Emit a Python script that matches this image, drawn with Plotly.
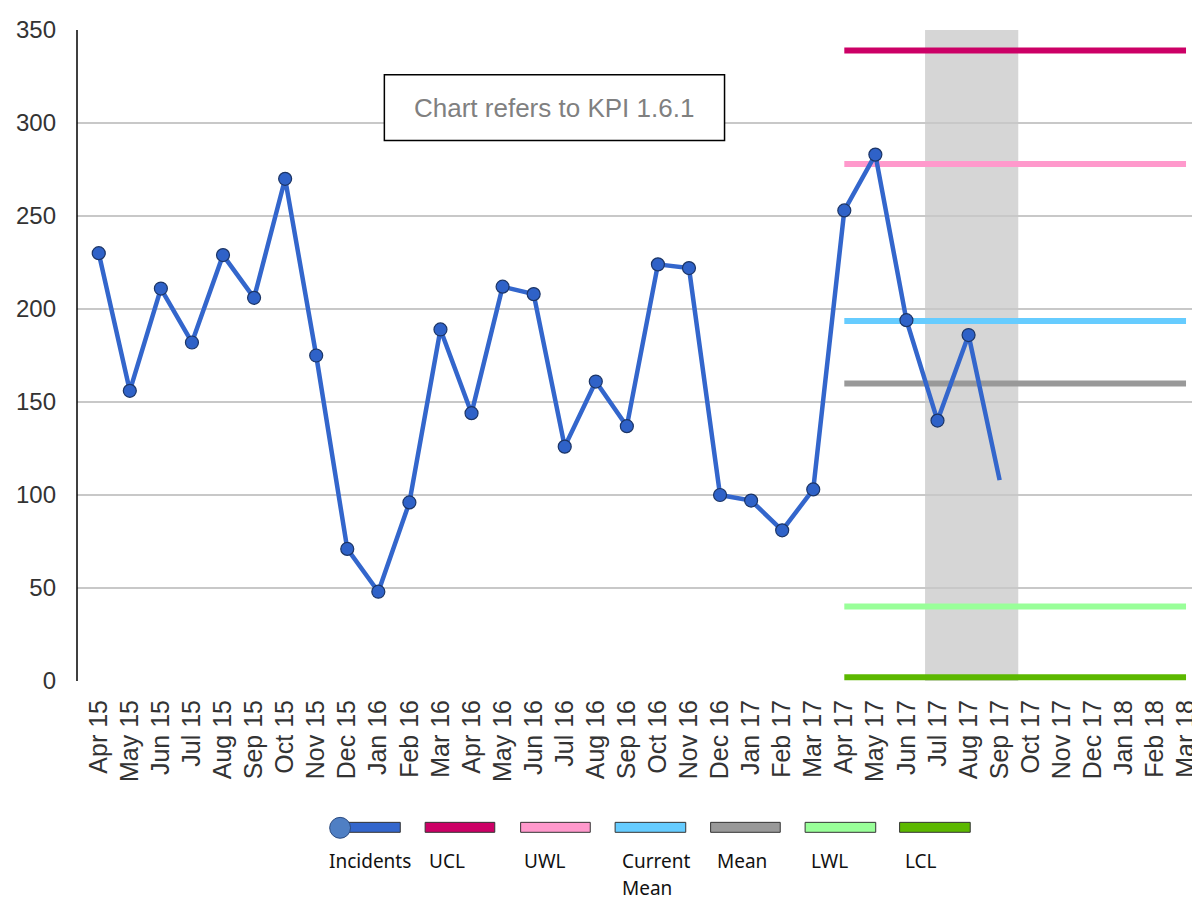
import plotly.graph_objects as go

months = ["Apr 15", "May 15", "Jun 15", "Jul 15", "Aug 15", "Sep 15", "Oct 15", "Nov 15", "Dec 15",
          "Jan 16", "Feb 16", "Mar 16", "Apr 16", "May 16", "Jun 16", "Jul 16", "Aug 16", "Sep 16",
          "Oct 16", "Nov 16", "Dec 16", "Jan 17", "Feb 17", "Mar 17", "Apr 17", "May 17", "Jun 17",
          "Jul 17", "Aug 17", "Sep 17", "Oct 17", "Nov 17", "Dec 17", "Jan 18", "Feb 18", "Mar 18"]

incidents = [230, 156, 211, 182, 229, 206, 270, 175, 71, 48, 96, 189, 144, 212, 208, 126, 161, 137,
             224, 222, 100, 97, 81, 103, 253, 283, 194, 140, 186, 108]

limit_months = months[24:]
ucl = [339] * 12
uwl = [278] * 12
current_mean = [193.5] * 12
mean = [160] * 12
lwl = [40] * 12
lcl = [2] * 12

shade_range = [26.6, 29.6]  # category index span of shaded period

series_names = ["Incidents", "UCL", "UWL", "Current Mean", "Mean", "LWL", "LCL"]
colors = ["#3366cc", "#cc0066", "#ff99cc", "#66ccff", "#999999", "#99ff99", "#5cb800"]

# page has an 8px body margin; positions below are in screen pixels
OFF = 8
L, T, R, B = 71 - OFF, 27 - OFF, 1200 - OFF, 681 - OFF
W, H = R - L, B - T


def px(x):
    return (x - OFF - L) / W


def py(y):
    return (B - (y - OFF)) / H


fig = go.Figure()

limits = [ucl, uwl, current_mean, mean, lwl, lcl]
for name, vals, col in zip(series_names[1:], limits, colors[1:]):
    fig.add_trace(go.Scatter(x=limit_months, y=vals, mode="lines", name=name,
                             line=dict(color=col, width=6), hoverinfo="name+y"))

sizes = [13] * (len(incidents) - 1) + [0]
fig.add_trace(go.Scatter(x=months[:len(incidents)], y=incidents, mode="lines+markers", name="Incidents",
                         line=dict(color=colors[0], width=4.5),
                         marker=dict(symbol="circle", size=sizes, color="#2f62c8", opacity=1,
                                     line=dict(color="#1c3566", width=1.2))))

shapes = []
shapes.append(dict(type="rect", xref="x", yref="paper", x0=shade_range[0], x1=shade_range[1], y0=0, y1=1,
                   fillcolor="#d6d6d6", line=dict(width=0), layer="below"))
# left axis line
shapes.append(dict(type="line", xref="paper", yref="paper", x0=0, x1=0, y0=0, y1=1,
                   line=dict(color="#000000", width=1.5)))
# KPI box
shapes.append(dict(type="rect", xref="paper", yref="paper", x0=px(380), x1=px(722), y0=py(138), y1=py(72),
                   line=dict(color="#000000", width=1.5), fillcolor="white", layer="above"))

annotations = [dict(x=px(551), y=py(105), xref="paper", yref="paper", text="Chart refers to KPI 1.6.1",
                    showarrow=False, xanchor="center", yanchor="middle",
                    font=dict(family="Liberation Sans, Arial", size=26, color="#808080"))]

# custom legend
sw_x0 = [335, 421, 517, 612, 708, 803, 898]
sw_x1 = [396, 491, 587, 683, 778, 874, 969]
lab_x = [322, 423, 518, 617, 712, 807, 901]
for i, name in enumerate(series_names):
    shapes.append(dict(type="rect", xref="paper", yref="paper", x0=px(sw_x0[i]), x1=px(sw_x1[i]),
                       y0=py(833), y1=py(823), fillcolor=colors[i],
                       line=dict(color="#333333", width=1)))
    parts = name.split(" ")
    for j, p in enumerate(parts):
        annotations.append(dict(x=px(lab_x[i]), y=py(862 + 27 * j), xref="paper", yref="paper", text=p,
                                showarrow=False, xanchor="left", yanchor="middle",
                                font=dict(family="Noto Sans", size=19, color="#111111")))
shapes.append(dict(type="circle", xref="paper", yref="paper", x0=px(325), x1=px(346), y0=py(839), y1=py(818),
                   fillcolor="#4f7fc4", line=dict(color="#2a4a80", width=1)))

fig.update_layout(
    width=1200, height=900,
    margin=dict(l=L, r=1200 - R, t=T, b=900 - B),
    plot_bgcolor="white", paper_bgcolor="white",
    showlegend=False,
    shapes=shapes, annotations=annotations,
    xaxis=dict(type="category", categoryorder="array", categoryarray=months, tickvals=months,
               range=[-0.7, 35.45], tickangle=-90, showgrid=False, zeroline=False, showline=False,
               ticks="", tickfont=dict(family="Liberation Sans, Arial", size=25, color="#333333"),
               ticklabelstandoff=13),
    yaxis=dict(range=[0, 350], tickvals=[0, 50, 100, 150, 200, 250, 300, 350], showgrid=True,
               gridcolor="#c8c8c8", gridwidth=1.5, zeroline=False, showline=False, ticks="",
               tickfont=dict(family="Liberation Sans, Arial", size=24, color="#333333"),
               ticklabelstandoff=20),
)

fig.write_html("out.html")
